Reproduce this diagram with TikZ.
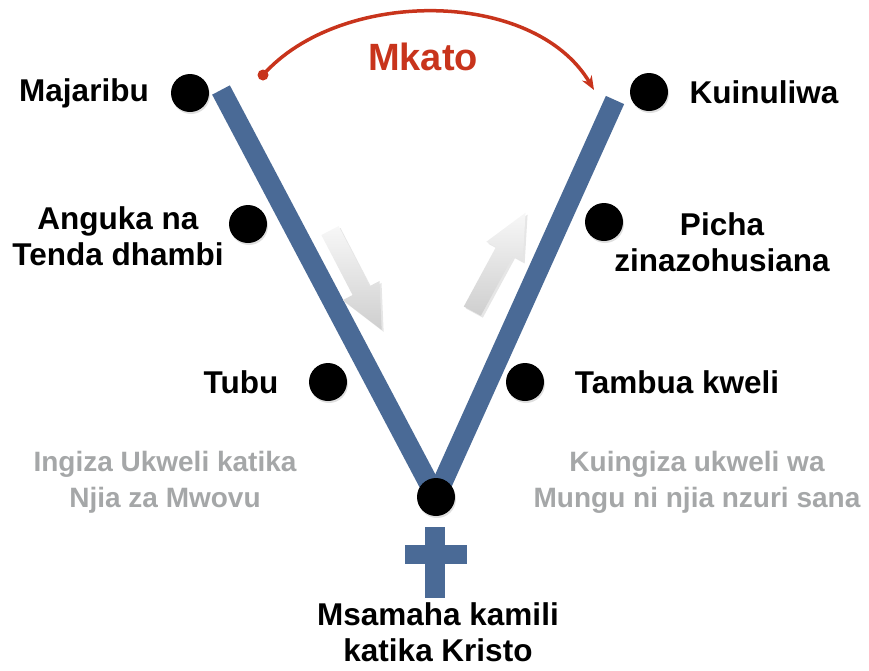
\documentclass[tikz,border=0pt]{standalone}
\usepackage{fontspec}
\setmainfont{Liberation Sans}
\usetikzlibrary{arrows.meta,shapes.arrows,shadows}

\definecolor{barblue}{RGB}{74,106,150}
\definecolor{cutred}{RGB}{200,52,28}
\definecolor{softgray}{RGB}{165,167,168}

\tikzset{
	bar/.style={line width=20pt, barblue},
	dot/.style={circle, fill=black, minimum size=38pt, inner sep=0pt,
		drop shadow={opacity=0.25, shadow xshift=1pt, shadow yshift=-2pt}},
	stage/.style={align=center, font=\fontsize{31.5}{36}\selectfont\bfseries},
	hint/.style={align=center, text=softgray, font=\fontsize{28}{36}\selectfont\bfseries},
	grayarrow/.style={single arrow, minimum height=112pt, inner sep=9.5pt,
		single arrow head extend=11pt, single arrow tip angle=50,
		top color=gray!6, bottom color=gray!38, draw=none,
		drop shadow={opacity=0.2, shadow xshift=2pt, shadow yshift=-2pt}},
}

\begin{document}
\begin{tikzpicture}[x=1pt, y=-1pt]
				\useasboundingbox (0,0) rectangle (869,670);

				\node [dot] (temp) at (190,93) {};
				\node [dot] (fall) at (248,224) {};
				\node [dot] (repent) at (328,382) {};
				\node [dot] (rise) at (649,92) {};
				\node [dot] (pics) at (604,222) {};
				\node [dot] (truth) at (525,382) {};

				\coordinate (Ltop) at (221,90);
				\coordinate (Rtop) at (615,100);
				\coordinate (V) at (436,497);
				\draw [bar] (Ltop)--(V);
				\draw [bar] (Rtop)--(V);
				\node [dot] (forgive) at (V) {};

				\fill [barblue] (425,527) rectangle (445,598);
				\fill [barblue] (405,545) rectangle (467,564);

				\node [stage] (tempL) at (84,93) {Majaribu};
				\node [stage] (fallL) at (118,236) {Anguka na\\Tenda dhambi};
				\node [stage] (repentL) at (241,382) {Tubu};
				\node [stage] (riseL) at (764,92) {Kuinuliwa};
				\node [stage] (picsL) at (722,242) {Picha\\zinazohusiana};
				\node [stage] (truthL) at (677,382) {Tambua kweli};
				\node [stage] (forgiveL) at (438,632) {Msamaha kamili\\katika Kristo};

				\node [hint] (evilL) at (165,482) {Ingiza Ukweli katika\\Njia za Mwovu};
				\node [hint] (goodL) at (697,482) {Kuingiza ukweli wa\\Mungu ni njia nzuri sana};

				\node [grayarrow, rotate=-62.5] (down) at (351,271) {};
				\node [grayarrow, rotate=61.6] (up) at (494,271) {};

				\coordinate (cutA) at (263,75);
				\coordinate (cutB) at (594,90);
				\fill [cutred] (cutA) circle (5.5pt);
				\draw [cutred, line width=3.5pt, -{Stealth[length=14pt,width=11pt]}]
					(cutA) .. controls (340,-12) and (534,-12) .. (cutB);
				\node [text=cutred, font=\fontsize{38}{40}\selectfont\bfseries] (cut) at (423,57) {Mkato};

			\end{tikzpicture}
\end{document}
